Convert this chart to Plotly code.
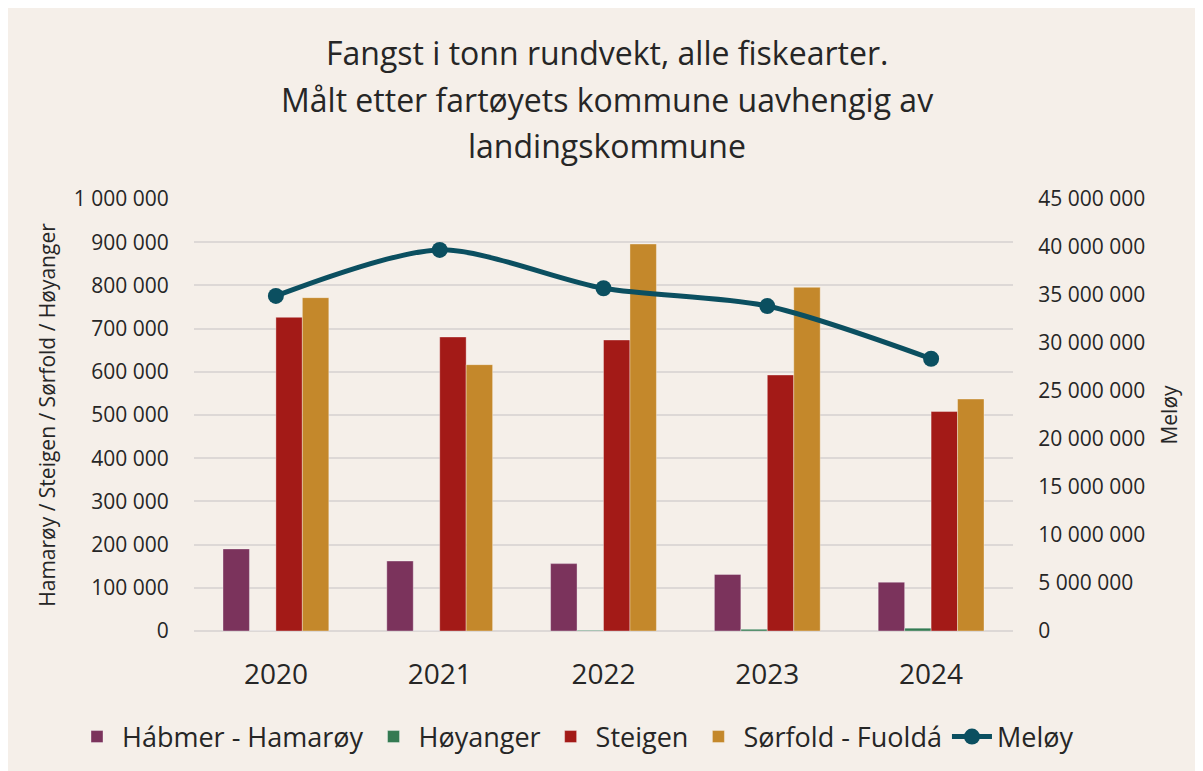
import plotly.graph_objects as go

years = ["2020", "2021", "2022", "2023", "2024"]
hamaroy = [190000, 162000, 156000, 131000, 113000]
hoyanger = [0, 0, 1500, 4000, 6500]
steigen = [726000, 680600, 673600, 592600, 508000]
sorfold = [771600, 616500, 895800, 795600, 537000]
meloy = [34900000, 39700000, 35700000, 33850000, 28360000]

names = ["Hábmer - Hamarøy", "Høyanger", "Steigen", "Sørfold - Fuoldá", "Meløy"]
colors = ["#7b335c", "#347a52", "#a31a17", "#c4882b", "#0b4f60"]

title_lines = ["Fangst i tonn rundvekt, alle fiskearter.",
               "Målt etter fartøyets kommune uavhengig av",
               "landingskommune"]

BG = "#f5efe9"
TXT = "#262626"
FONT = "Open Sans"

fig = go.Figure()
for vals, name, col in zip([hamaroy, hoyanger, steigen, sorfold], names[:4], colors[:4]):
    fig.add_trace(go.Bar(x=years, y=vals, name=name,
                         marker=dict(color=col, line=dict(color="rgba(255,255,255,0.35)", width=1))))

fig.add_trace(go.Scatter(x=years, y=meloy, name=names[4], yaxis="y2", mode="lines+markers",
                         line=dict(color=colors[4], width=5, shape="spline", smoothing=0.8),
                         marker=dict(size=16, color=colors[4])))

# page offset of 8 px (body margin)
OFF = 8
W, HT = 1203 - OFF, 771 - OFF
L, R, T, B = 194 - OFF, 190, 199 - OFF, 140
PW = W - L - R
PH = HT - T - B

def px(pix):
    return (pix - OFF - L) / PW

def py(pix):
    return (HT - B - (pix - OFF)) / PH

annots = []
for line, ypix in zip(title_lines, [52, 100, 145]):
    annots.append(dict(text=line, xref="paper", yref="paper", x=px(607), y=py(ypix),
                       xanchor="center", yanchor="middle", showarrow=False,
                       font=dict(family=FONT, size=32, color=TXT)))

fig.update_layout(
    width=W, height=HT,
    margin=dict(l=L, r=R, t=T, b=B, autoexpand=False),
    paper_bgcolor=BG, plot_bgcolor=BG,
    separators=", ",
    barmode="group", bargap=0.354, bargroupgap=0,
    font=dict(family=FONT, color=TXT),
    annotations=annots,
    showlegend=True,
    legend=dict(orientation="h", xref="paper", x=px(72), xanchor="left",
                yref="paper", y=py(737), yanchor="middle",
                font=dict(family=FONT, size=27, color=TXT),
                itemwidth=40, tracegroupgap=0, bgcolor="rgba(0,0,0,0)"),
    xaxis=dict(showgrid=False, ticks="outside", ticklen=18, tickcolor="rgba(0,0,0,0)",
               tickfont=dict(family=FONT, size=28, color=TXT), showline=False),
    yaxis=dict(range=[0, 1000000], dtick=100000, tickformat=",d", showgrid=True,
               gridcolor="#ddd8d6", gridwidth=1.5, zeroline=True, zerolinecolor="#ddd8d6", zerolinewidth=1.5,
               ticks="outside", ticklen=20, tickcolor="rgba(0,0,0,0)",
               tickfont=dict(family=FONT, size=21, color=TXT),
               title=dict(text="Hamarøy / Steigen / Sørfold / Høyanger", standoff=12,
                          font=dict(family=FONT, size=21, color=TXT))),
    yaxis2=dict(range=[0, 45000000], dtick=5000000, tickformat=",d", overlaying="y", side="right",
                showgrid=False, zeroline=False,
                ticks="outside", ticklen=20, tickcolor="rgba(0,0,0,0)",
                tickfont=dict(family=FONT, size=21, color=TXT),
                title=dict(text="Meløy", standoff=18, font=dict(family=FONT, size=21, color=TXT))),
)

fig.write_html("out.html")
